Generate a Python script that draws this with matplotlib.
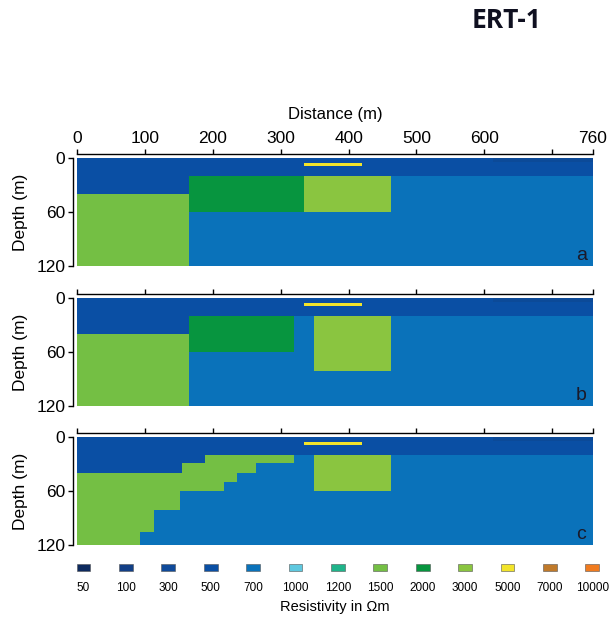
import numpy as np
import matplotlib.pyplot as plt

plt.rcParams['font.family'] = ['Liberation Sans', 'DejaVu Sans']

# resistivity classes (legend)
res_labels = ["50", "100", "300", "500", "700", "1000", "1200", "1500",
              "2000", "3000", "5000", "7000", "10000"]
res_colors = ["#0d2a5e", "#123f86", "#0f4a9a", "#0a4fa4", "#0a72ba", "#5ec8df",
              "#1fb48a", "#74bf44", "#07953f", "#8ac540", "#f2e42a", "#c07a2a",
              "#f07b1f"]
cmap = dict(zip(res_labels, res_colors))

x_ticks = [0, 100, 200, 300, 400, 500, 600, 700, 760]
x_ticklabels = ["0", "100", "200", "300", "400", "500", "600", "", "760"]
depth_ticks = [0, 60, 120]

# blocks: (x0, x1, depth_top, depth_bottom, resistivity class)
common = [
    (0, 760, 0, 120, "700"),
    (0, 760, 0, 20, "500"),
    (612, 760, 0, 4, "300"),
]
model_a = common + [
    (0, 165, 20, 40, "500"),
    (0, 165, 40, 120, "1500"),
    (165, 335, 20, 60, "2000"),
    (335, 463, 20, 60, "3000"),
]
model_b = common + [
    (0, 165, 20, 40, "500"),
    (0, 165, 40, 120, "1500"),
    (165, 320, 20, 60, "2000"),
    (349, 463, 20, 81, "3000"),
]
model_c = common + [
    (0, 155, 20, 40, "500"),
    (155, 189, 20, 29, "500"),
    (0, 93, 40, 120, "1500"),
    (93, 113, 40, 106, "1500"),
    (113, 151, 40, 81, "1500"),
    (151, 155, 40, 60, "1500"),
    (155, 189, 29, 60, "1500"),
    (189, 217, 20, 60, "1500"),
    (217, 235, 20, 50, "1500"),
    (235, 263, 20, 40, "1500"),
    (263, 320, 20, 29, "1500"),
    (349, 463, 20, 60, "3000"),
]
# yellow marker line near the surface
marker = (335, 420, 5.5, 9, "5000")

models = [("a", model_a), ("b", model_b), ("c", model_c)]

fig = plt.figure(figsize=(6.09, 6.20), dpi=100)

W, H = 609, 620
left, right = 77, 593
panel_tops = [158, 298, 437]
panel_h = 108

for i, (tag, blocks) in enumerate(models):
    top = panel_tops[i]
    ax = fig.add_axes([left / W, 1 - (top + panel_h) / H,
                       (right - left) / W, panel_h / H])
    for x0, x1, z0, z1, r in blocks + [marker]:
        c = cmap[r]
        if r == "300":
            c = "#0c4a98"   # faint darker strip at the surface
        ax.bar(x0, z1 - z0, width=x1 - x0, bottom=z0, align="edge",
               color=c, linewidth=0)
    ax.set_xlim(0, 760)
    ax.set_ylim(120, 0)

    ax.spines["right"].set_visible(False)
    ax.spines["bottom"].set_visible(False)
    ax.spines["top"].set_position(("outward", 3))
    ax.spines["left"].set_position(("outward", 3))
    ax.spines["top"].set_linewidth(1.0)
    ax.spines["left"].set_linewidth(1.0)

    ax.xaxis.tick_top()
    ax.set_xticks(x_ticks)
    if i == 0:
        ax.set_xticklabels(x_ticklabels, fontsize=12.5)
        ax.xaxis.set_label_position("top")
        ax.set_xlabel("Distance (m)", fontsize=12, labelpad=9)
    else:
        ax.set_xticklabels([])
    ax.set_yticks(depth_ticks)
    ax.set_yticklabels([str(t) for t in depth_ticks], fontsize=12.5)
    ax.tick_params(axis="both", direction="out", length=3.5, width=1.0, pad=2)
    ax.set_ylabel("Depth (m)", fontsize=12.5, labelpad=6)

    ax.text(0.977, 0.10, tag, transform=ax.transAxes, fontsize=14,
            ha="center", va="center", color="#1a1a2a")

# legend strip: swatches above the class values
lax = fig.add_axes([62.3 / W, 1 - 578 / H, (12.8 * 42.4) / W, 20 / H])
idx = np.arange(len(res_labels))
lax.bar(idx, 0.36, width=0.33, bottom=0.34, color=res_colors,
        edgecolor="#555555", linewidth=0.4)
lax.set_xlim(-0.5, 12.3)
lax.set_ylim(0, 1)
lax.set_xticks(idx)
lax.set_xticklabels(res_labels, fontsize=8.5)
lax.tick_params(axis="x", length=0, pad=3)
lax.set_yticks([])
for s in lax.spines.values():
    s.set_visible(False)
lax.patch.set_alpha(0)

fig.text(335 / W, 1 - 607 / H, "Resistivity in \u03a9m", fontsize=10.5,
         ha="center", va="center")
fig.text(507 / W, 1 - 21 / H, "ERT-1", fontsize=19, fontweight="bold",
         family=["Open Sans", "DejaVu Sans"], ha="center", va="center",
         color="#0f1020")

fig.savefig("out.png", dpi=100)
